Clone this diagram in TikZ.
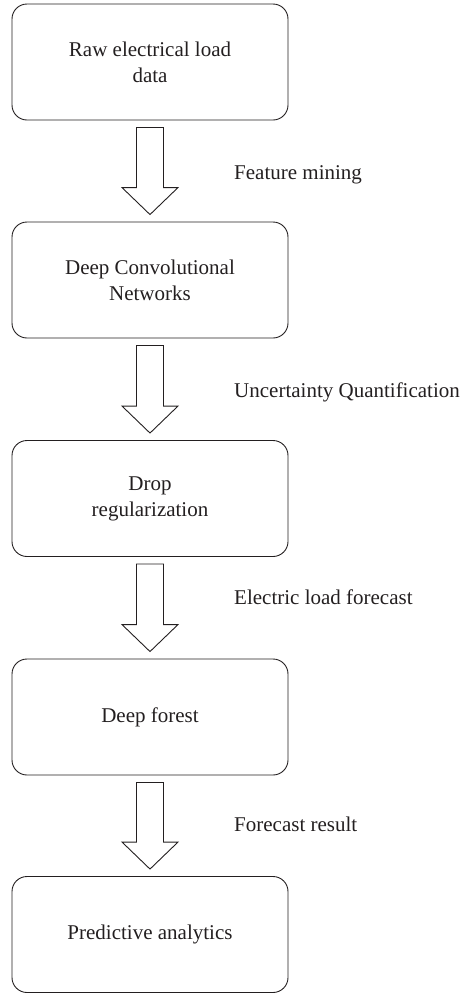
\documentclass[tikz,border=0pt]{standalone}
\usepackage{fontspec}
\setmainfont{Liberation Serif}
\usetikzlibrary{calc}
\definecolor{ink}{HTML}{231F20}
\tikzset{
  stage/.style={draw=ink, line width=0.9pt, rounded corners=15pt,
    minimum width=276pt, minimum height=116pt, align=center,
    text=ink, font=\fontsize{21}{26}\selectfont, inner sep=0pt},
  flowarrow/.style={draw=ink, line width=0.9pt, fill=white, line join=miter},
  caption/.style={anchor=west, text=ink, font=\fontsize{21}{26}\selectfont, inner sep=0pt}
}
% hollow block arrow from the bottom of one stage to the top of the next
\newcommand{\blockarrow}[2]{%
  \draw[flowarrow]
    ($(#1.south)+(-13.5,7)$) -- ($(#1.south)+(13.5,7)$) --
    ($(#2.north)+(13.5,-34)$) -- ($(#2.north)+(28,-34)$) --
    ($(#2.north)+(0,-7)$) -- ($(#2.north)+(-28,-34)$) --
    ($(#2.north)+(-13.5,-34)$) -- cycle;}
\begin{document}
\begin{tikzpicture}[x=1pt, y=-1pt]
  \useasboundingbox (0,0) rectangle (465,994);

  \node[stage] (raw)  at (150,62)    {Raw electrical load\\data};
  \node[stage] (dcn)  at (150,280)   {Deep Convolutional\\Networks};
  \node[stage] (drop) at (150,498.5) {Drop\\regularization};
  \node[stage] (df)   at (150,717)   {Deep forest};
  \node[stage] (pa)   at (150,934.5) {Predictive analytics};

  \blockarrow{raw}{dcn}
  \blockarrow{dcn}{drop}
  \blockarrow{drop}{df}
  \blockarrow{df}{pa}

  \node[caption] (c1) at (234,175) {Feature mining};
  \node[caption] (c2) at (234,392) {Uncertainty Quantification};
  \node[caption] (c3) at (234,597) {Electric load forecast};
  \node[caption] (c4) at (234,824) {Forecast result};
\end{tikzpicture}
\end{document}
